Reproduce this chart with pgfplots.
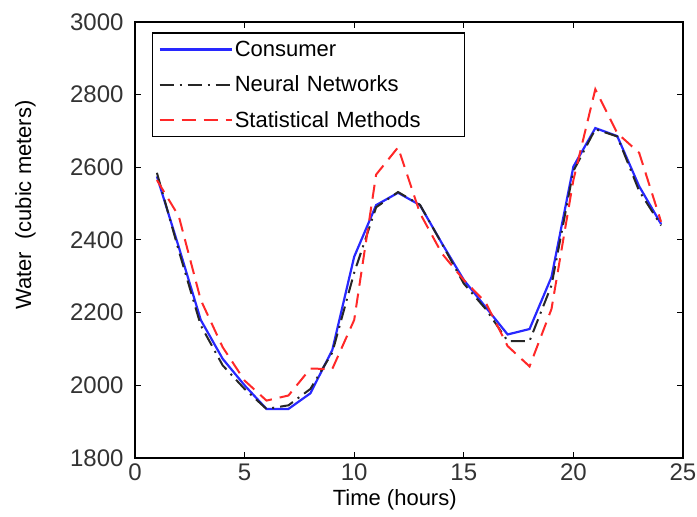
\documentclass[border=0pt]{standalone}
\usepackage{fontspec}
\setmainfont{Liberation Sans}
\usepackage{pgfplots}
\pgfplotsset{compat=1.18}
\definecolor{cblue}{RGB}{40,40,255}
\definecolor{cred}{RGB}{255,40,40}
\begin{document}
\begin{tikzpicture}[x=1pt,y=1pt]
\useasboundingbox (-135,-59) rectangle (562,458);
\begin{axis}[
  at={(0,0)}, anchor=south west,
  scale only axis, width=548pt, height=436pt,
  xmin=0, xmax=25, ymin=1800, ymax=3000,
  xtick={0,5,...,25}, ytick={1800,2000,...,3000},
  tick align=inside, major tick length=6pt,
  axis line style={line width=1.2pt}, every tick/.style={line width=1pt,black},
  /pgf/number format/assume math mode=true,
  /pgf/number format/1000 sep={},
  tick label style={font=\fontsize{24}{26}\selectfont, text=black!80},
  xticklabel style={yshift=-2pt},
  yticklabel style={xshift=-8pt},
  xlabel={Time (hours)}, ylabel={Water\ \ (cubic meters)},
  label style={font=\fontsize{22}{24}\selectfont},
  xlabel style={at={(axis description cs:0.474,-0.097)}, anchor=center},
  ylabel style={at={(axis description cs:-0.2,0.58)}, anchor=center},
  legend style={at={(axis description cs:0.031,0.976)}, anchor=north west,
    draw=black, line width=1.2pt, font=\fontsize{22}{24}\selectfont,
    inner xsep=6pt, inner ysep=6pt, row sep=14pt, text width=222pt},
  legend cell align=left,
  legend image code/.code={\draw[#1] (0pt,0pt) -- (72pt,0pt);},
]
\addplot[cblue, line width=2.2pt] coordinates {
(1,2575)(2,2380)(3,2180)(4,2073)(5,2000)(6,1935)(7,1935)(8,1978)(9,2097)(10,2354)(11,2496)(12,2530)(13,2496)(14,2391)(15,2290)(16,2215)(17,2140)(18,2155)(19,2298)(20,2602)(21,2708)(22,2686)(23,2548)(24,2444)};
\addlegendentry{Consumer}
\addplot[black!85, line width=2pt, dash pattern=on 14pt off 6pt on 2pt off 6pt] coordinates {
(1,2585)(2,2370)(3,2165)(4,2055)(5,1990)(6,1935)(7,1945)(8,1990)(9,2090)(10,2310)(11,2490)(12,2532)(13,2497)(14,2390)(15,2280)(16,2210)(17,2122)(18,2122)(19,2275)(20,2590)(21,2705)(22,2685)(23,2535)(24,2440)};
\addlegendentry{Neural Networks}
\addplot[cred, line width=2pt, dash pattern=on 14pt off 8pt] coordinates {
(1,2565)(2,2465)(3,2235)(4,2105)(5,2013)(6,1958)(7,1972)(8,2046)(9,2045)(10,2180)(11,2580)(12,2655)(13,2474)(14,2363)(15,2290)(16,2228)(17,2108)(18,2052)(19,2210)(20,2565)(21,2815)(22,2694)(23,2640)(24,2450)};
\addlegendentry{Statistical Methods}
\end{axis}
\end{tikzpicture}
\end{document}
